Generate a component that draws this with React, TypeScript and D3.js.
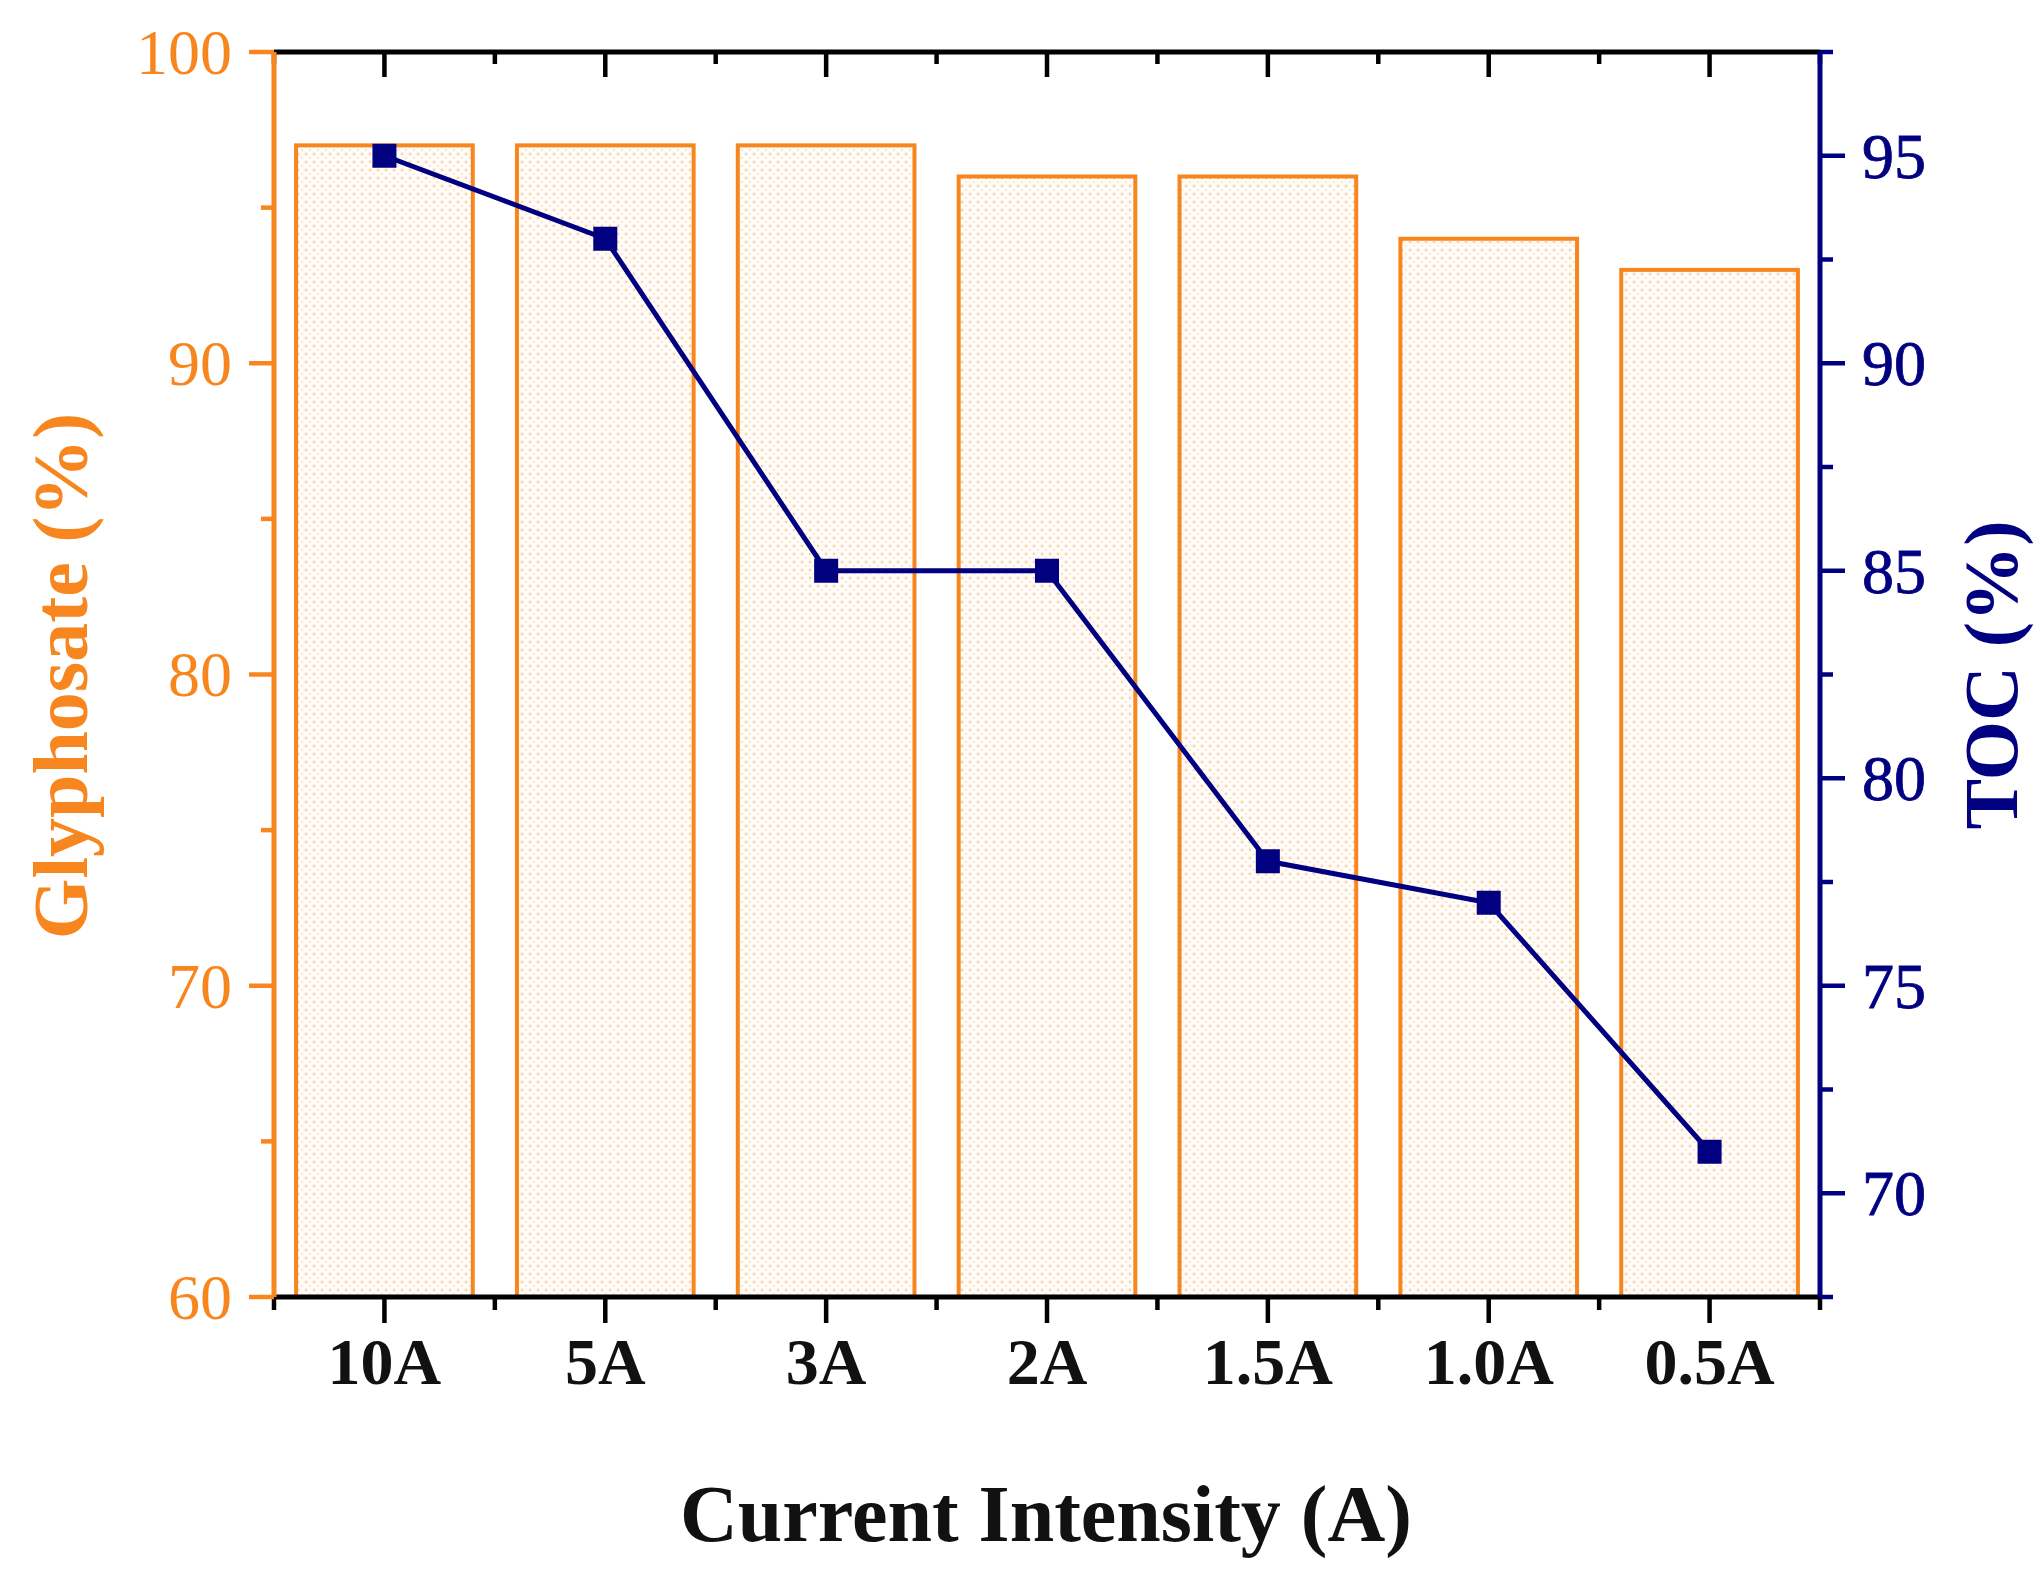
import * as d3 from 'd3';

const categories = ['10A', '5A', '3A', '2A', '1.5A', '1.0A', '0.5A'];
const glyphosate = [97, 97, 97, 96, 96, 94, 93];
const toc = [95, 93, 85, 85, 78, 77, 71];
const leftTicks = [60, 70, 80, 90, 100];
const leftMinor = [65, 75, 85, 95];
const rightTicks = [70, 75, 80, 85, 90, 95];
const rightMinor = [67.5, 72.5, 77.5, 82.5, 87.5, 92.5, 97.5];

const W = 2044;
const H = 1586;
const m = { left: 274, right: 1820, top: 52, bottom: 1297 };
const ORANGE = '#F7861F';
const NAVY = '#000080';
const FONT = '"Liberation Serif", "Times New Roman", serif';

export default function App() {
    const x = d3.scaleBand<string>()
        .domain(categories)
        .range([m.left, m.right])
        .paddingInner(0.2)
        .paddingOuter(0.1);
    const yL = d3.scaleLinear().domain([60, 100]).range([m.bottom, m.top]);
    const yR = d3.scaleLinear().domain([67.5, 97.5]).range([m.bottom, m.top]);

    const step = x.step();
    const centers = categories.map(c => (x(c) ?? 0) + x.bandwidth() / 2);
    const minorX = [centers[0] - step / 2, ...centers.map(c => c + step / 2)];

    const line = d3.line<number>()
        .x((_, i) => centers[i])
        .y(d => yR(d));

    const sq = 24;

    return (
        <svg width={W} height={H} style={{ position: 'absolute', left: 0, top: 0, background: '#fff' }}
            fontFamily={FONT}>
            <defs>
                <pattern id="dots" width="8" height="8" patternUnits="userSpaceOnUse">
                    <rect width="8" height="8" fill="#FFFBF7" />
                    <circle cx="2" cy="2" r="1.4" fill="#FAD3B0" />
                    <circle cx="6" cy="6" r="1.1" fill="#FCE3CC" />
                </pattern>
            </defs>

            {/* bars */}
            {categories.map((c, i) => (
                <rect key={c}
                    x={x(c)}
                    y={yL(glyphosate[i])}
                    width={x.bandwidth()}
                    height={m.bottom - yL(glyphosate[i])}
                    fill="url(#dots)"
                    stroke={ORANGE}
                    strokeWidth={4} />
            ))}

            {/* TOC line */}
            <path d={line(toc) ?? ''} fill="none" stroke={NAVY} strokeWidth={5} />
            {toc.map((v, i) => (
                <rect key={i} x={centers[i] - sq / 2} y={yR(v) - sq / 2} width={sq} height={sq} fill={NAVY} />
            ))}

            {/* top axis */}
            <line x1={m.left} x2={m.right} y1={m.top} y2={m.top} stroke="#000" strokeWidth={5} />
            {centers.map((c, i) => (
                <line key={'tM' + i} x1={c} x2={c} y1={m.top} y2={m.top + 25} stroke="#000" strokeWidth={4.5} />
            ))}
            {minorX.map((c, i) => (
                <line key={'tm' + i} x1={c} x2={c} y1={m.top} y2={m.top + 12} stroke="#000" strokeWidth={4.5} />
            ))}

            {/* bottom axis */}
            <line x1={m.left} x2={m.right} y1={m.bottom} y2={m.bottom} stroke="#000" strokeWidth={5} />
            {centers.map((c, i) => (
                <line key={'bM' + i} x1={c} x2={c} y1={m.bottom} y2={m.bottom + 26} stroke="#000" strokeWidth={4.5} />
            ))}
            {minorX.map((c, i) => (
                <line key={'bm' + i} x1={c} x2={c} y1={m.bottom} y2={m.bottom + 13} stroke="#000" strokeWidth={4.5} />
            ))}
            {categories.map((c, i) => (
                <text key={'bl' + c} x={centers[i]} y={1384} textAnchor="middle"
                    fontSize={66} fontWeight="bold" fill="#111">{c}</text>
            ))}

            {/* left axis */}
            <line x1={m.left} x2={m.left} y1={m.top} y2={m.bottom} stroke={ORANGE} strokeWidth={5} />
            {leftTicks.map(t => (
                <g key={'l' + t}>
                    <line x1={m.left - 25} x2={m.left} y1={yL(t)} y2={yL(t)} stroke={ORANGE} strokeWidth={4.5} />
                    <text x={m.left - 42} y={yL(t)} dy="0.34em" textAnchor="end" fontSize={64} fill={ORANGE}>{t}</text>
                </g>
            ))}
            {leftMinor.map(t => (
                <line key={'lm' + t} x1={m.left - 13} x2={m.left} y1={yL(t)} y2={yL(t)} stroke={ORANGE} strokeWidth={4.5} />
            ))}

            {/* right axis */}
            <line x1={m.right} x2={m.right} y1={m.top} y2={m.bottom} stroke={NAVY} strokeWidth={5} />
            {rightTicks.map(t => (
                <g key={'r' + t}>
                    <line x1={m.right} x2={m.right + 25} y1={yR(t)} y2={yR(t)} stroke={NAVY} strokeWidth={4.5} />
                    <text x={m.right + 42} y={yR(t)} dy="0.34em" textAnchor="start" fontSize={64} fill={NAVY}
                        stroke={NAVY} strokeWidth={0.8}>{t}</text>
                </g>
            ))}
            {rightMinor.map(t => (
                <line key={'rm' + t} x1={m.right} x2={m.right + 13} y1={yR(t)} y2={yR(t)} stroke={NAVY} strokeWidth={4.5} />
            ))}

            {/* axis titles */}
            <text transform={`translate(60,676) rotate(-90)`} textAnchor="middle" dy="0.35em"
                fontSize={78} fontWeight="bold" fill={ORANGE}>Glyphosate (%)</text>
            <text transform={`translate(1990,675) rotate(-90)`} textAnchor="middle" dy="0.35em"
                fontSize={76} fontWeight="bold" fill={NAVY}>TOC (%)</text>
            <text x={1046} y={1541} textAnchor="middle" fontSize={80} fontWeight="bold" fill="#111">
                Current Intensity (A)
            </text>
        </svg>
    );
}
